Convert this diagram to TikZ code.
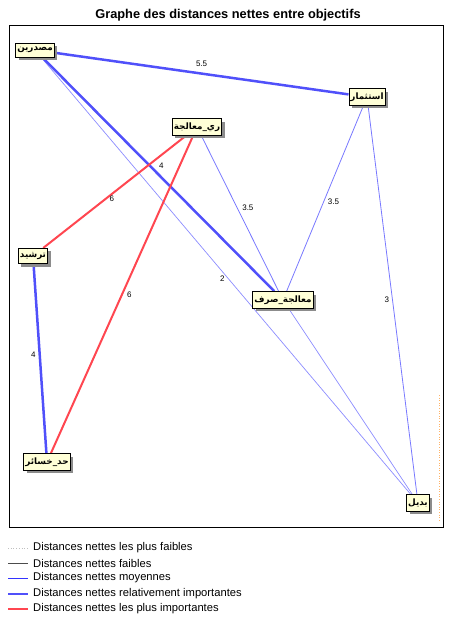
\documentclass[tikz,border=0pt]{standalone}
\usepackage{fontspec}
\setmainfont{Liberation Sans}
\newfontfamily\arabicfont[Script=Arabic]{DejaVu Sans}
\TeXXeTstate=1
\usetikzlibrary{shadows, backgrounds}

\newcommand\artext[1]{{\arabicfont\bfseries\beginR #1\endR}}

\definecolor{strongblue}{RGB}{80,80,250}
\definecolor{midblue}{RGB}{120,120,255}
\definecolor{paleblue}{RGB}{140,140,255}
\definecolor{strongred}{RGB}{255,70,80}
\definecolor{boxfill}{RGB}{255,255,215}

\tikzset{
  goal/.style={draw, fill=boxfill, inner xsep=1.5pt, inner ysep=4pt, line width=0.8pt,
    font=\fontsize{8.8}{8.8}\selectfont,
    drop shadow={shadow xshift=3pt, shadow yshift=-3pt, fill=black!45, opacity=1}},
  weight/.style={font=\fontsize{8}{8}\selectfont, inner sep=1pt},
  faint/.style={draw=paleblue, line width=0.7pt},
  medium/.style={draw=midblue, line width=0.8pt},
  heavy/.style={draw=strongblue, line width=2.5pt},
  heaviest/.style={draw=strongred, line width=2pt},
  legdotted/.style={draw=black!25, dotted, line width=0.7pt},
  leggray/.style={draw=black!70, line width=0.7pt},
  legblue/.style={draw=blue!80, line width=0.7pt},
  legheavy/.style={draw=strongblue, line width=2pt},
  legred/.style={draw=strongred, line width=2pt},
}

\begin{document}
\begin{tikzpicture}[x=1pt, y=-1pt]
  \useasboundingbox (0, 0) rectangle (449, 618);

  \node[font=\bfseries\fontsize{12.8}{13}\selectfont] (title) at (228, 15)
    {Graphe des distances nettes entre objectifs};
  \draw[line width=0.8pt] (9, 25) rectangle (443, 527);
  \draw[orange!60, dotted, line width=0.6pt] (439, 395) -- (439, 522);

  % objectifs
  \node[goal] (src)    at (35, 50)   {\artext{مصدرين}};
  \node[goal] (treat)  at (197, 127) {\artext{ري\_معالجة}};
  \node[goal] (invest) at (367, 97)  {\artext{استثمار}};
  \node[goal] (ration) at (33, 256)  {\artext{ترشيد}};
  \node[goal] (drain)  at (283, 300) {\artext{معالجة\_صرف}};
  \node[goal] (loss)   at (47, 462)  {\artext{حد\_خسائر}};
  \node[goal] (alt)    at (418, 503) {\artext{بديل}};

  % distances
  \begin{scope}[on background layer]
  \path[faint] (src) -- node[weight, pos=0.49, below=3pt] {2} (alt);
  \path[heavy] (src) -- node[weight, pos=0.5, above=5pt] {5.5} (invest);
  \path[heavy] (src) -- node[weight, pos=0.5, above=3pt, xshift=3pt] {4} (drain);
  \path[medium] (treat) -- node[weight, pos=0.46, right=4pt] {3.5} (drain);
  \path[medium] (invest) -- node[weight, pos=0.52, right=3pt] {3.5} (drain);
  \path[medium] (invest) -- node[weight, pos=0.5, left=2pt] {3} (alt);
  \path[faint] (drain) -- (alt);
  \path[heavy] (ration) -- node[weight, pos=0.48, left=2pt] {4} (loss);
  \path[heaviest] (treat) -- node[weight, pos=0.49, below=3pt, xshift=-4pt] {6} (ration);
  \path[heaviest] (treat) -- node[weight, pos=0.5, right=3pt] {6} (loss);
  \end{scope}

  % legende
  \foreach \y/\sty/\txt in {
      548/legdotted/Distances nettes les plus faibles,
      563/leggray/Distances nettes faibles,
      578/legblue/Distances nettes moyennes,
      594/legheavy/Distances nettes relativement importantes,
      609/legred/Distances nettes les plus importantes} {
    \coordinate (l\y) at (8, \y);
    \coordinate (r\y) at (28, \y);
    \path[\sty] (l\y) -- (r\y);
    \node[anchor=west, inner sep=0pt, font=\fontsize{11.2}{11.2}\selectfont] (t\y) at (33, \y) {\txt};
  }
\end{tikzpicture}
\end{document}
